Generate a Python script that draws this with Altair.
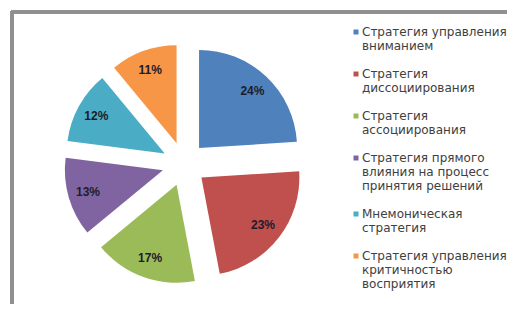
import altair as alt
import pandas as pd

labels = [
    "Стратегия управления|вниманием",
    "Стратегия|диссоциирования",
    "Стратегия|ассоциирования",
    "Стратегия прямого|влияния на процесс|принятия решений",
    "Мнемоническая|стратегия",
    "Стратегия управления|критичностью|восприятия",
]
values = [24, 23, 17, 13, 12, 11]
colors = ["#4F81BD", "#C0504D", "#9BBB59", "#8064A2", "#4BACC6", "#F79646"]

df = pd.DataFrame({"label": labels, "value": values, "idx": list(range(len(labels)))})

CX, CY, R, EXPLODE, LABEL_R = 176, 156, 98, 22, 78

base = alt.Chart(df).transform_window(
    cum="sum(value)", sort=[alt.SortField("idx")], frame=[None, 0]
).transform_joinaggregate(total="sum(value)").transform_calculate(
    t0="2*PI*(datum.cum - datum.value)/datum.total",
    t1="2*PI*datum.cum/datum.total",
).transform_calculate(
    mid="(datum.t0 + datum.t1)/2"
).transform_calculate(
    cx=f"{CX} + {EXPLODE}*sin(datum.mid)",
    cy=f"{CY} - {EXPLODE}*cos(datum.mid)",
).transform_calculate(
    lx=f"datum.cx + {LABEL_R}*sin(datum.mid)",
    ly=f"datum.cy - {LABEL_R}*cos(datum.mid)",
    pct="datum.value + '%'",
)

arcs = base.mark_arc(radius=R).encode(
    theta=alt.Theta("t0:Q", scale=None, stack=None),
    theta2="t1:Q",
    x=alt.X("cx:Q", scale=None, axis=None),
    y=alt.Y("cy:Q", scale=None, axis=None),
    color=alt.Color(
        "label:N",
        scale=alt.Scale(domain=labels, range=colors),
        legend=alt.Legend(
            title=None,
            orient="none",
            legendX=342,
            legendY=18,
            symbolType="square",
            symbolSize=25,
            symbolStrokeWidth=0,
            labelFont="DejaVu Sans",
            labelFontSize=12,
            labelColor="#404040",
            labelExpr="split(datum.label, '|')",
            labelLimit=0,
            labelOffset=0,
            labelBaseline="middle",
            rowPadding=16,
            padding=0,
        ),
    ),
)

text = base.mark_text(
    font="Liberation Sans", fontSize=12, fontWeight="bold", color="#1c1c2c"
).encode(
    x=alt.X("lx:Q", scale=None, axis=None),
    y=alt.Y("ly:Q", scale=None, axis=None),
    text="pct:N",
)

frame_v = alt.Chart(df).mark_rule(color="#8f8f8f", strokeWidth=3).encode(
    x=alt.value(4), y=alt.value(3), y2=alt.value(296)
)
frame_h = alt.Chart(df).mark_rule(color="#8f8f8f", strokeWidth=3).encode(
    y=alt.value(4), x=alt.value(3), x2=alt.value(499)
)

chart = alt.layer(frame_v, frame_h, arcs, text).properties(
    width=499, height=296, padding=0,
    autosize=alt.AutoSizeParams(type="none"),
).configure_view(stroke=None)

chart.save("out.html", embed_options={"renderer": "svg", "actions": False})
